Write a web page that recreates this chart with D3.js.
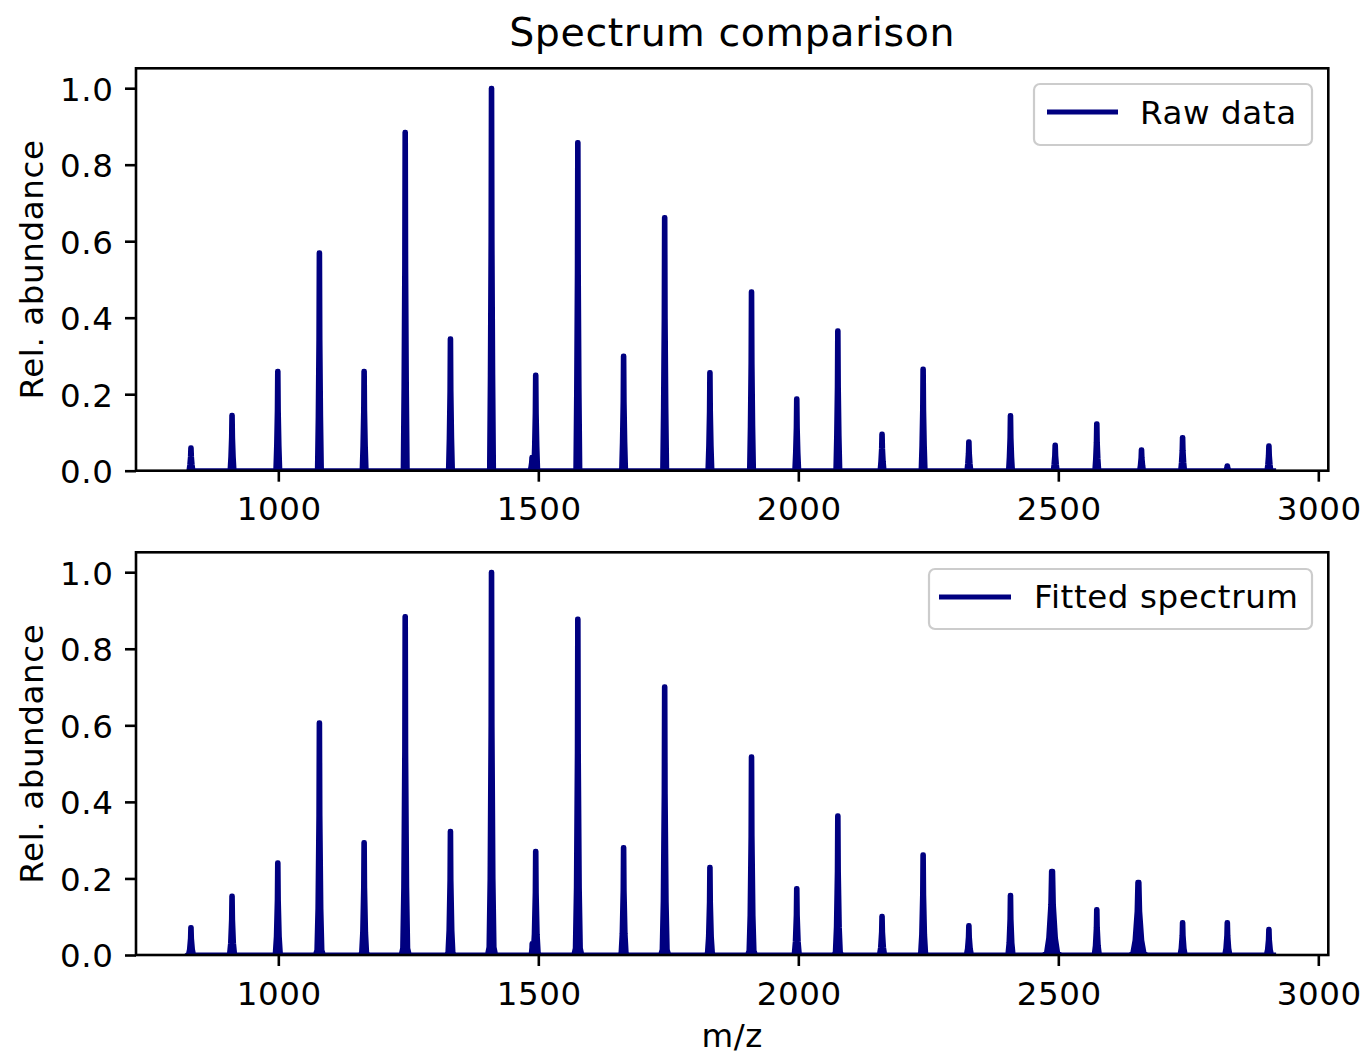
<!DOCTYPE html>
<html>
<head>
<meta charset="utf-8">
<script src="https://cdn.jsdelivr.net/npm/d3@7"></script>
<style>
  html, body { margin: 0; padding: 0; background: #fff; }
  svg { display: block; font-family: "DejaVu Sans", sans-serif; }
  text { letter-spacing: 0.6px; }
</style>
</head>
<body>
<svg id="chart" width="1363" height="1055"></svg>
<script>
// ---------- data ----------
const titleText = "Spectrum comparison";
const xLabel = "m/z";
const yLabel = "Rel. abundance";
const seriesNames = ["Raw data", "Fitted spectrum"];
const xTicks = [1000, 1500, 2000, 2500, 3000];
const yTicks = [0.0, 0.2, 0.4, 0.6, 0.8, 1.0];
const mzRange = [829, 2914];

const rawMz = [832, 911, 999, 1079, 1165, 1244, 1331, 1410, 1488, 1495, 1576, 1664, 1743, 1830, 1910, 1997, 2076, 2161, 2240, 2328, 2408, 2494, 2574, 2660, 2739, 2825, 2905];
const rawAbund = [0.06, 0.145, 0.26, 0.57, 0.26, 0.885, 0.345, 1.0, 0.035, 0.25, 0.858, 0.30, 0.662, 0.257, 0.468, 0.188, 0.366, 0.096, 0.266, 0.076, 0.144, 0.067, 0.123, 0.055, 0.087, 0.013, 0.065];

const fitMz = [832, 911, 999, 1079, 1165, 1244, 1331, 1410, 1488, 1495, 1576, 1664, 1743, 1830, 1910, 1997, 2076, 2161, 2240, 2328, 2408, 2488, 2574, 2654, 2739, 2825, 2905];
const fitAbund = [0.072, 0.154, 0.241, 0.607, 0.294, 0.884, 0.323, 1.0, 0.03, 0.271, 0.878, 0.281, 0.701, 0.229, 0.518, 0.174, 0.364, 0.101, 0.262, 0.077, 0.156, 0.219, 0.119, 0.19, 0.085, 0.085, 0.067];
const fitWidth = [1, 1, 1, 1, 1, 1, 1, 1, 0.5, 1, 1, 1, 1, 1, 1, 1, 1, 1, 1, 1, 1, 2.2, 1, 2.2, 1, 1, 1];

// ---------- layout / style ----------
const W = 1363, H = 1055;
const navy = "#000080";
const FS = 32.5;
const axL = 136, axR = 1328.3;
const panels = [
  { top: 68.3, bottom: 470.7, mz: rawMz, ab: rawAbund, wd: null, name: seriesNames[0],
    profile: [[-4,0],[-2.5,0.25],[-1.2,0.6],[-0.6,1],[0.6,1],[1.2,0.6],[2.5,0.25],[4,0]],
    legend: { x0: 1034, x1: 1312, y0: 84, y1: 145, lx0: 1047, lx1: 1118, ly: 112, tx: 1140, ty: 124 } },
  { top: 552.3, bottom: 955, mz: fitMz, ab: fitAbund, wd: fitWidth, name: seriesNames[1],
    profile: [[-8,0],[-5,0.02],[-3,0.2],[-1.2,0.6],[-0.6,1],[0.6,1],[1.2,0.6],[3,0.2],[5,0.02],[8,0]],
    legend: { x0: 929, x1: 1312, y0: 569, y1: 629, lx0: 939, lx1: 1011, ly: 597, tx: 1034, ty: 608 } }
];

const svg = d3.select("#chart");
svg.append("rect").attr("width", W).attr("height", H).attr("fill", "#fff");

const x = d3.scaleLinear().domain([726.3, 3019.2]).range([axL, axR]);

// title
svg.append("text")
  .attr("x", (axL + axR) / 2).attr("y", 46)
  .attr("text-anchor", "middle")
  .attr("font-size", 39.5)
  .text(titleText);

panels.forEach((p, pi) => {
  const y = d3.scaleLinear().domain([0, 1.052]).range([p.bottom, p.top]);
  const g = svg.append("g");
  const clipId = "clip" + pi;
  svg.append("defs").append("clipPath").attr("id", clipId)
    .append("rect").attr("x", axL).attr("y", p.top).attr("width", axR - axL).attr("height", p.bottom - p.top);

  // build spectrum points from peak list
  const pts = [[mzRange[0], 0]];
  p.mz.forEach((c, i) => {
    const w = p.wd ? p.wd[i] : 1;
    p.profile.forEach(([o, f]) => pts.push([c + o * w, p.ab[i] * f]));
  });
  pts.push([mzRange[1], 0]);
  const line = d3.line().x(d => x(d[0])).y(d => y(d[1]));

  g.append("path")
    .attr("clip-path", `url(#${clipId})`)
    .attr("d", line(pts))
    .attr("fill", navy)
    .attr("stroke", navy)
    .attr("stroke-width", 5)
    .attr("stroke-linejoin", "round")
    .attr("stroke-linecap", "square");

  // axes
  const ya = g.append("g").attr("transform", `translate(${axL},0)`)
    .call(d3.axisLeft(y).tickValues(yTicks).tickFormat(d3.format(".1f")).tickSize(11).tickPadding(12));
  const xa = g.append("g").attr("transform", `translate(0,${p.bottom})`)
    .call(d3.axisBottom(x).tickValues(xTicks).tickFormat(d3.format("d")).tickSize(11).tickPadding(12));
  [ya, xa].forEach(a => {
    a.select(".domain").remove();
    a.selectAll(".tick line").attr("stroke", "#000").attr("stroke-width", 2.6);
    a.selectAll(".tick text").attr("font-family", "DejaVu Sans").attr("font-size", FS).attr("fill", "#000");
  });
  ya.selectAll(".tick text").attr("dy", null).attr("y", 11.8).attr("x", -22.5);
  xa.selectAll(".tick text").attr("dy", null).attr("y", 49.5).attr("x", 0.5);

  // spines
  g.append("rect")
    .attr("x", axL).attr("y", p.top).attr("width", axR - axL).attr("height", p.bottom - p.top)
    .attr("fill", "none").attr("stroke", "#000").attr("stroke-width", 2.6);

  // y label
  const cy = (p.top + p.bottom) / 2;
  g.append("text")
    .attr("transform", `translate(42.5,${cy}) rotate(-90)`)
    .attr("text-anchor", "middle")
    .attr("font-size", FS)
    .text(yLabel);

  // legend
  const L = p.legend;
  g.append("rect")
    .attr("x", L.x0).attr("y", L.y0).attr("width", L.x1 - L.x0).attr("height", L.y1 - L.y0)
    .attr("rx", 6).attr("ry", 6)
    .attr("fill", "#fff").attr("fill-opacity", 0.8)
    .attr("stroke", "#cccccc").attr("stroke-width", 2.2);
  g.append("line")
    .attr("x1", L.lx0).attr("x2", L.lx1).attr("y1", L.ly).attr("y2", L.ly)
    .attr("stroke", navy).attr("stroke-width", 4.9);
  g.append("text")
    .attr("x", L.tx).attr("y", L.ty)
    .attr("font-size", FS)
    .text(p.name);
});

// x label
svg.append("text")
  .attr("x", (axL + axR) / 2).attr("y", 1047)
  .attr("text-anchor", "middle")
  .attr("font-size", FS)
  .text(xLabel);
</script>
</body>
</html>
